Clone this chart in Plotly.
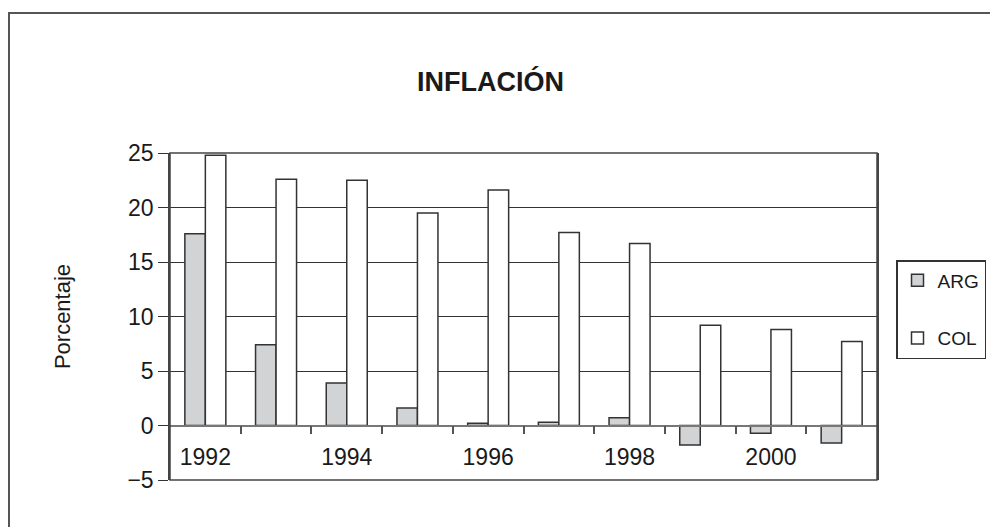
import plotly.graph_objects as go

years = [1992, 1993, 1994, 1995, 1996, 1997, 1998, 1999, 2000, 2001]
arg = [17.6, 7.4, 3.9, 1.6, 0.2, 0.3, 0.7, -1.8, -0.7, -1.6]
col = [24.8, 22.6, 22.5, 19.5, 21.6, 17.7, 16.7, 9.2, 8.8, 7.7]
series_names = ["ARG", "COL"]
label_years = [1992, 1994, 1996, 1998, 2000]
title_text = "INFLACIÓN"
y_title = "Porcentaje"

# page has an 8px body margin; work in page pixels and convert
OFF = 8
W, H = 998 - OFF, 527 - OFF
px_left, px_right, px_top, px_bottom = 170, 877, 153, 480   # plot area on page
L, T = px_left - OFF, px_top - OFF
R, B = W - (px_right - OFF), H - (px_bottom - OFF)
pw, ph = W - L - R, H - T - B


def fx(p):  # page x -> paper x
    return (p - px_left) / pw


def fy(p):  # page y -> paper y
    return (px_bottom - p) / ph


sans = "Liberation Sans, Arial, sans-serif"

fig = go.Figure()
fig.add_trace(go.Bar(x=years, y=arg, name=series_names[0],
                     marker=dict(color="#d2d3d5", line=dict(color="#333333", width=1.5)),
                     legendgroup="a"))
fig.add_trace(go.Bar(x=years, y=col, name=series_names[1],
                     marker=dict(color="#ffffff", line=dict(color="#333333", width=1.5)),
                     legendgroup="b"))

ymin, ymax = -5, 25
fig.update_layout(
    width=W, height=H,
    margin=dict(l=L, r=R, t=T, b=B, autoexpand=False),
    paper_bgcolor="white", plot_bgcolor="white",
    barmode="group", bargap=0.42, bargroupgap=0,
    title=dict(text=title_text, x=(490.5 - OFF) / W, xanchor="center",
               y=1 - (81.5 - OFF) / H, yanchor="middle",
               font=dict(family=sans, size=27, color="#1a1a1a", weight="bold")),
    font=dict(family=sans, color="#1a1a1a"),
    legend=dict(x=fx(896), y=fy(260), xanchor="left", yanchor="top",
                bordercolor="#333333", borderwidth=1.5, bgcolor="white",
                font=dict(family=sans, size=19, color="#1a1a1a"),
                tracegroupgap=30, itemwidth=30),
    xaxis=dict(range=[1991.5, 2001.5], anchor="free", position=(0 - ymin) / (ymax - ymin),
               tickmode="array", tickvals=label_years, ticktext=[str(v) for v in label_years],
               ticks="outside", ticklen=11, tickcolor="rgba(0,0,0,0)",
               tickfont=dict(family=sans, size=23, color="#1a1a1a"),
               showline=True, linecolor="#777777", linewidth=1.5, showgrid=False, zeroline=False,
               minor=dict(tickmode="array", tickvals=[y + 0.5 for y in years[:-1]],
                          ticks="outside", ticklen=8, tickcolor="#555555", tickwidth=1.5,
                          showgrid=False)),
    yaxis=dict(range=[ymin, ymax], tickmode="linear", tick0=0, dtick=5,
               ticks="outside", ticklen=10, tickcolor="#333333", tickwidth=1.2,
               tickfont=dict(family=sans, size=23, color="#1a1a1a"),
               showgrid=True, gridcolor="#333333", gridwidth=1,
               zeroline=True, zerolinecolor="#777777", zerolinewidth=1.5,
               showline=True, linecolor="#444444", linewidth=1.5, mirror=True,
               title=dict(text=y_title, font=dict(family=sans, size=22, color="#1a1a1a"), standoff=51)),
    shapes=[
        dict(type="rect", xref="paper", yref="paper", x0=0, x1=1, y0=0, y1=1,
             line=dict(color="#444444", width=1.5), layer="above"),
        dict(type="rect", xref="paper", yref="paper",
             x0=fx(9), x1=fx(1030), y0=fy(560), y1=fy(13),
             line=dict(color="#555555", width=2), layer="below"),
    ],
)

fig.write_html("out.html")
